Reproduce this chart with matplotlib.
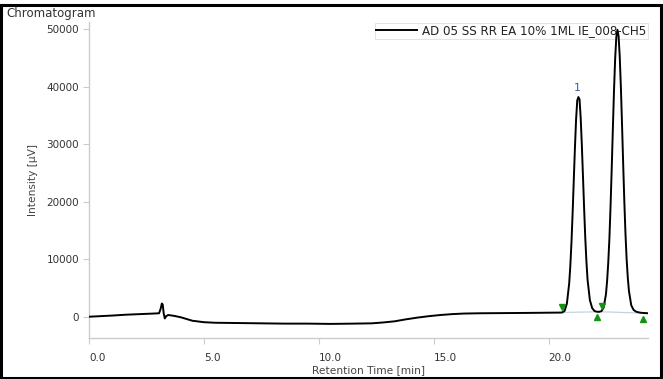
import matplotlib
matplotlib.use("Agg")
import matplotlib.pyplot as plt
import matplotlib.transforms as mtransforms
from matplotlib.patches import Rectangle

# detector trace, time [min] vs intensity [uV]
rt_min = [0.0, 0.5, 1.0, 1.6, 2.2, 2.8, 3.05, 3.12, 3.17, 3.21, 3.25, 3.30, 3.36, 3.45,
          3.7, 4.0, 4.5, 5.0, 5.5, 6.5, 7.5, 8.5, 9.5, 10.5, 11.5, 12.3, 12.8, 13.3,
          13.8, 14.3, 14.8, 15.3, 15.8, 16.3, 17.0, 18.0, 19.0, 20.0, 20.5, 20.6,
          20.7, 20.8, 20.9, 20.95, 21.0, 21.05, 21.1, 21.15, 21.2, 21.25, 21.3,
          21.35, 21.4, 21.45, 21.5, 21.55, 21.6, 21.65, 21.7, 21.8, 21.9, 22.0,
          22.1, 22.2, 22.3, 22.4, 22.5, 22.55, 22.6, 22.65, 22.7, 22.75, 22.8,
          22.85, 22.9, 22.95, 23.0, 23.05, 23.1, 23.15, 23.2, 23.25, 23.3, 23.35,
          23.4, 23.45, 23.5, 23.6, 23.7, 23.8, 23.9, 24.0, 24.1, 24.33]
intensity = [0, 100, 200, 350, 450, 550, 600, 1400, 2300, 2100, 600, -300, 100, 300,
             150, -100, -700, -950, -1050, -1100, -1150, -1200, -1200, -1250, -1200,
             -1150, -1000, -800, -450, -150, 100, 300, 450, 550, 600, 630, 660, 700,
             720, 740,
             1020, 2300, 5800, 8900, 13000, 18100, 23800, 29400, 34300, 37600, 38200,
             37800, 34600, 29900, 24400, 18800, 13700, 9600, 6400, 2900, 1500, 1000,
             870, 850, 950, 1600, 3900, 6200, 9400, 13600, 19200, 25700, 32600,
             39300, 44800, 48600, 49900, 48800, 45200, 39900, 33400, 26500, 20000,
             14400, 10000, 6800, 4500, 2000, 1200, 900, 780, 700, 660, 600]

# integration marks: peak start (down) and peak end (up)
start_rt = [20.6, 22.32]
start_val = [740, 900]
end_rt = [22.13, 24.13]
end_val = [860, 640]
base_rt = [[20.6, 22.2], [22.3, 24.33]]
base_val = [[740, 860], [860, 600]]

peak_rt = 21.3
peak_val = 38200
peak_name = "1"

trace_name = "AD 05 SS RR EA 10% 1ML IE_008-CH5"
x_ticks = [0, 5, 10, 15, 20]
y_ticks = [0, 10000, 20000, 30000, 40000, 50000]

plt.rcParams["font.family"] = "DejaVu Sans"
fig = plt.figure(figsize=(6.63, 3.79), dpi=100)
ax = fig.add_axes([89 / 663, 1 - 338 / 379, (648 - 89) / 663, (338 - 22) / 379])

for bx, by in zip(base_rt, base_val):
    ax.plot(bx, by, color="#c5d3de", lw=0.9, zorder=2)
ax.plot(rt_min, intensity, color="black", lw=1.4, zorder=3, label=trace_name)

green = "#129412"
down = mtransforms.offset_copy(ax.transData, fig=fig, x=0, y=4, units="points")
up = mtransforms.offset_copy(ax.transData, fig=fig, x=0, y=-4, units="points")
ax.plot(start_rt, start_val, "v", color=green, ms=5, transform=down, zorder=4, clip_on=False)
ax.plot(end_rt, end_val, "^", color=green, ms=5, transform=up, zorder=4, clip_on=False)

ax.annotate(peak_name, (peak_rt, peak_val), xytext=(-1, 3), textcoords="offset points",
            ha="center", va="bottom", color="#35609a", fontsize=8)

ax.set_xlim(0, 24.33)
ax.set_ylim(-3700, 51250)
ax.set_xticks(x_ticks)
ax.set_xticklabels(["%.1f" % v for v in x_ticks], ha="left")
ax.set_yticks(y_ticks)
ax.set_yticklabels([str(v) for v in y_ticks])

for side in ["top", "right"]:
    ax.spines[side].set_visible(False)
for side in ["left", "bottom"]:
    ax.spines[side].set_color("#cccccc")
    ax.spines[side].set_linewidth(1.0)
ax.tick_params(axis="both", colors="#cccccc", labelcolor="#333333", labelsize=7.5,
               length=4, width=0.8)
ax.tick_params(axis="x", pad=7)
ax.tick_params(axis="y", pad=3)

ax.set_xlabel("Retention Time [min]", fontsize=7.7, color="#444444", labelpad=1)
ax.set_ylabel("Intensity [\u03bcV]", fontsize=7.7, color="#444444", labelpad=6)

leg = ax.legend(loc="upper right", bbox_to_anchor=(1.0, 0.997), fontsize=8.6,
                frameon=True, fancybox=False, borderpad=0.12, handlelength=3.4,
                handletextpad=0.45, borderaxespad=0)
leg.get_frame().set_edgecolor("#dddddd")
leg.get_frame().set_linewidth(0.8)
leg.set_zorder(1)
for t in leg.get_texts():
    t.set_color("#222222")

fig.text(6 / 663, 1 - 14 / 379, "Chromatogram", fontsize=8.5, color="#333333",
         ha="left", va="center")
fig.patches.append(Rectangle((0.002, 0.003), 0.995, 0.985, transform=fig.transFigure,
                             fill=False, edgecolor="black", lw=2.2))

fig.savefig("out.png", dpi=100)
